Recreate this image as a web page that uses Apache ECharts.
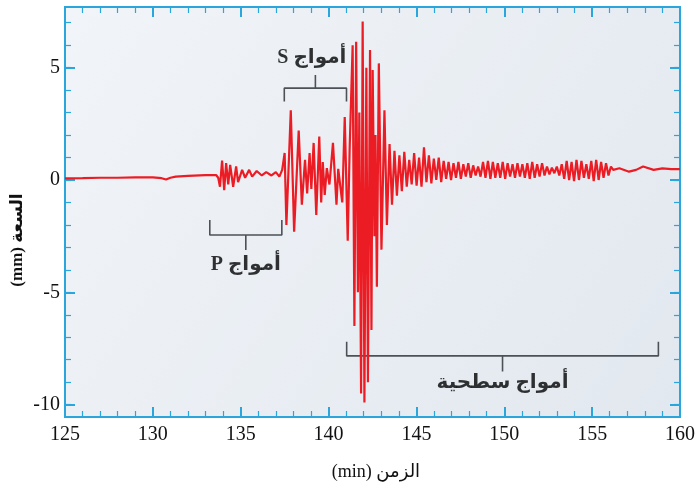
<!DOCTYPE html>
<html>
<head>
<meta charset="utf-8">
<script src="https://cdn.jsdelivr.net/npm/echarts@6/dist/echarts.min.js"></script>
<style>html,body{margin:0;padding:0;background:#fff}#c{width:698px;height:497px}</style>
</head>
<body>
<div id="c"></div>
<script>
// ---- data ----
const time = [
  125, 126, 127, 128, 129, 130, 130.5, 130.75, 131.0, 131.3, 132, 133, 133.6,
  133.72, 133.82, 133.94, 134.06, 134.17, 134.29, 134.4, 134.57, 134.74, 134.85, 135.08, 135.25, 135.48, 135.65, 135.91, 136.2, 136.45, 136.75, 137.0, 137.2, 137.36,
  137.5, 137.6, 137.85, 138.04, 138.3, 138.48, 138.66, 138.78, 138.92, 139.02, 139.15, 139.3, 139.47, 139.58, 139.67, 139.78, 139.9, 140.05, 140.25, 140.45, 140.55, 140.67, 140.78, 140.92,
  141.09, 141.2, 141.37, 141.47, 141.57, 141.67, 141.75, 141.85, 141.94, 142.04, 142.15, 142.24, 142.36, 142.44, 142.51, 142.61, 142.67, 142.75, 142.86, 143.01, 143.18, 143.32, 143.47,
  143.61, 143.75, 143.89, 144.03, 144.17, 144.31, 144.45, 144.59, 144.73, 144.87, 145.01, 145.15, 145.29, 145.43, 145.57, 145.71, 145.85, 145.99, 146.13, 146.27,
  146.41, 146.55, 146.69, 146.83, 146.97, 147.11, 147.25, 147.39, 147.53, 147.67, 147.81, 147.95, 148.09, 148.23, 148.37, 148.51, 148.65, 148.79, 148.93, 149.07,
  149.21, 149.35, 149.49, 149.63, 149.77, 149.91, 150.05, 150.19, 150.33, 150.47, 150.61, 150.75, 150.89, 151.03, 151.17, 151.31, 151.45, 151.59, 151.73, 151.87,
  152.01, 152.15, 152.29, 152.43, 152.57, 152.71, 152.85, 152.99, 153.13, 153.27, 153.41, 153.55, 153.69, 153.83, 153.97, 154.11, 154.25, 154.39, 154.53, 154.67,
  154.81, 154.95, 155.09, 155.23, 155.37, 155.51, 155.65, 155.79, 155.93, 156.07,
  156.2, 156.55, 157.1, 157.5, 157.9, 158.5, 159.0, 159.5, 160
];
const amplitude = [
  0.07, 0.08, 0.1, 0.1, 0.12, 0.12, 0.08, 0.02, 0.1, 0.15, 0.18, 0.22, 0.22,
  0.1, -0.3, 0.86, -0.45, 0.75, -0.2, 0.67, -0.3, 0.6, -0.1, 0.45, 0.1, 0.45, 0.15, 0.4, 0.2, 0.35, 0.2, 0.35, 0.15, 0.45,
  1.2, -2.0, 3.1, -2.3, 2.2, -1.1, 0.9, -0.6, 1.2, -0.4, 1.65, -1.56, 1.93, -1.0, 0.8, -0.67, 0.53, -0.2, 1.65, -1.1, 0.5, -0.3, -1.0, 2.8,
  -2.7, 1.4, 6.0, -6.5, 6.15, -5.0, 3.0, -9.5, 7.05, -9.9, 5.0, -9.0, 5.79, -6.68, 4.9, -2.5, 2.0, -4.75, 5.19, -3.1, 3.1, -2.0, 1.6,
  -1.1, 1.3, -0.7, 1.1, -0.5, 1.25, -0.3, 0.9, -0.2, 1.2, -0.25, 1.0, -0.3, 1.45, -0.1, 1.1, -0.15, 0.95, 0.0, 1.0,
  -0.1, 0.85, 0.05, 0.8, 0.0, 0.75, 0.1, 0.8, 0.05, 0.7, 0.15, 0.75, 0.1, 0.65, 0.2, 0.6, 0.15, 0.8, 0.1, 0.85,
  0.05, 0.8, 0.1, 0.75, 0.1, 0.8, 0.05, 0.75, 0.15, 0.7, 0.1, 0.75, 0.15, 0.7, 0.1, 0.75, 0.05, 0.8, 0.1, 0.7,
  0.15, 0.75, 0.2, 0.6, 0.25, 0.55, 0.3, 0.6, 0.2, 0.7, 0.05, 0.85, 0.0, 0.8, -0.05, 0.9, 0.0, 0.85, 0.1, 0.7,
  0.05, 0.85, -0.05, 0.9, 0.0, 0.8, 0.1, 0.75, 0.2, 0.6,
  0.45, 0.52, 0.37, 0.45, 0.6, 0.45, 0.52, 0.48, 0.48
];
const xTickLabels = [125, 130, 135, 140, 145, 150, 155, 160];
const yTickLabels = [-10, -5, 0, 5];
const yMinorTicks = [-10, -9, -8, -7, -6, -5, -4, -3, -2, -1, 0, 1, 2, 3, 4, 5, 6, 7];

// wave-phase annotations
const pWave = { start: 133.24, end: 137.34, level: -2.45, label: '\u202Bأمواج P\u202C' };
const sWave = { start: 137.48, end: 141.02, level: 4.09, label: '\u202Bأمواج S\u202C' };
const surfaceWave = { start: 141.03, end: 158.77, level: -7.83, label: 'أمواج سطحية' };

const xName = '\u202Bالزمن (min)\u202C';
const yName = '\u202Bالسعة (mm)\u202C';

// ---- build ----
const seismo = time.map((t, i) => [t, amplitude[i]]);
function bracket(b, arm, stem) {
  const mid = (b.start + b.end) / 2;
  return [[b.start, b.level + arm], [b.start, b.level], [mid, b.level], [mid, b.level + stem],
          [mid, b.level], [b.end, b.level], [b.end, b.level + arm]];
}
const BLUE = '#2ba6dc';
const serif = "'Liberation Serif', 'DejaVu Sans', serif";
const chart = echarts.init(document.getElementById('c'));
const yMin = -10.55, yMax = 7.7;
const baseY = {
  type: 'value', min: yMin, max: yMax, splitLine: { show: false },
  axisLine: { show: true, onZero: false, lineStyle: { color: BLUE, width: 2 } }
};
const baseX = {
  type: 'value', min: 125, max: 160, interval: 5, splitLine: { show: false },
  axisLine: { show: true, onZero: false, lineStyle: { color: BLUE, width: 2 } },
  axisTick: { inside: true, length: 10, lineStyle: { color: BLUE, width: 2 } },
  minorTick: { show: true, splitNumber: 5, length: 6, lineStyle: { color: BLUE, width: 1.2 } }
};
chart.setOption({
  animation: false,
  grid: {
    left: 65, right: 17, top: 7, bottom: 80, show: true, borderWidth: 0,
    backgroundColor: new echarts.graphic.LinearGradient(0, 0, 1, 1, [
      { offset: 0, color: '#f1f4f8' }, { offset: 1, color: '#e2e8ef' }])
  },
  xAxis: [
    Object.assign({}, baseX, { position: 'bottom',
      axisLabel: { color: '#111', fontSize: 20, fontFamily: serif, margin: 8,
        formatter: v => xTickLabels.includes(v) ? String(v) : '' } }),
    Object.assign({}, baseX, { position: 'top', axisLabel: { show: false } })
  ],
  yAxis: [
    Object.assign({}, baseY, { position: 'left',
      axisTick: { inside: true, length: 10, customValues: yTickLabels, lineStyle: { color: BLUE, width: 2 } },
      axisLabel: { customValues: yTickLabels, color: '#111', fontSize: 20, fontFamily: serif, margin: 5 } }),
    Object.assign({}, baseY, { position: 'left',
      axisTick: { inside: true, length: 6, customValues: yMinorTicks, lineStyle: { color: BLUE, width: 1.2 } },
      axisLabel: { show: false } }),
    Object.assign({}, baseY, { position: 'right',
      axisTick: { inside: true, length: 10, customValues: yTickLabels, lineStyle: { color: BLUE, width: 2 } },
      axisLabel: { show: false } }),
    Object.assign({}, baseY, { position: 'right',
      axisTick: { inside: true, length: 6, customValues: yMinorTicks, lineStyle: { color: BLUE, width: 1.2 } },
      axisLabel: { show: false } })
  ],
  series: [
    { type: 'line', data: bracket(pWave, 0.67, -0.67), showSymbol: false, z: 2,
      lineStyle: { color: '#4c5157', width: 1.6 } },
    { type: 'line', data: bracket(sWave, -0.6, 0.58), showSymbol: false, z: 2,
      lineStyle: { color: '#4c5157', width: 1.6 } },
    { type: 'line', data: bracket(surfaceWave, 0.63, -0.7), showSymbol: false, z: 2,
      lineStyle: { color: '#4c5157', width: 1.6 } },
    { type: 'line', data: seismo, showSymbol: false, z: 3,
      lineStyle: { color: '#ec1c24', width: 2.2 } },
    { type: 'scatter', symbolSize: 0, z: 4, silent: true,
      data: [
        [(pWave.start + pWave.end) / 2, -3.78, pWave.label],
        [(sWave.start + sWave.end) / 2 - 0.2, 5.43, sWave.label],
        [(surfaceWave.start + surfaceWave.end) / 2, -9.03, surfaceWave.label]
      ],
      label: { show: true, position: 'inside', formatter: p => p.value[2],
        color: '#000', fontSize: 20, fontWeight: 'bold', fontFamily: serif } }
  ],
  graphic: [
    { type: 'text', x: 376, y: 472, style: { text: xName, fill: '#111', fontSize: 18,
        fontFamily: serif, align: 'center', verticalAlign: 'middle' } },
    { type: 'text', x: 18, y: 240, rotation: Math.PI / 2, style: { text: yName, fill: '#111', fontSize: 17,
        fontFamily: serif, fontWeight: 'bold', align: 'center', verticalAlign: 'middle' } }
  ]
});
</script>
</body>
</html>
